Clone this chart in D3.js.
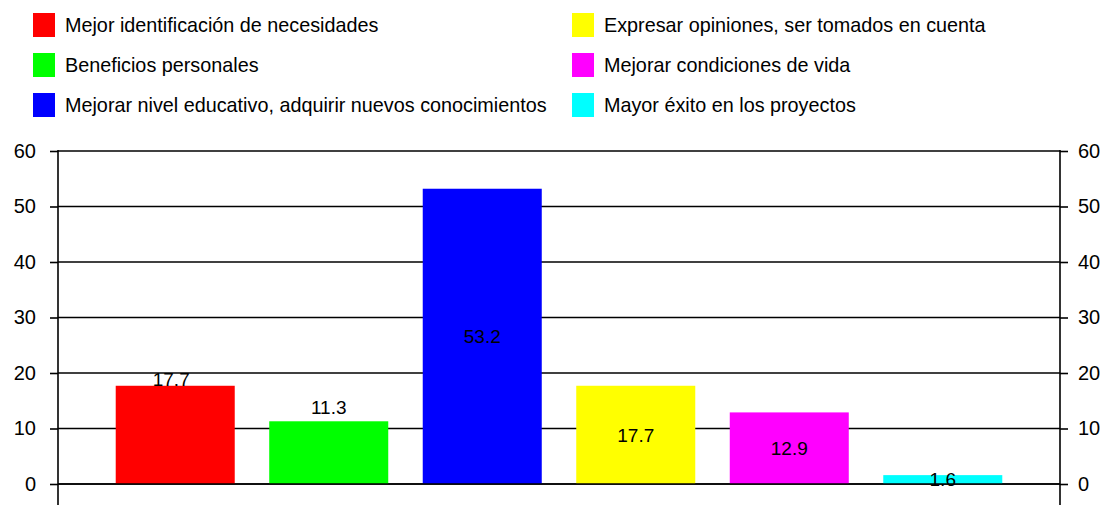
<!DOCTYPE html>
<html><head><meta charset="utf-8">
<script src="https://cdn.jsdelivr.net/npm/d3@7"></script>
<style>body{margin:0;background:#fff}svg{display:block}text{font-family:"Liberation Sans",Arial,sans-serif;fill:#000}</style>
</head><body><svg id="c" width="1107" height="505"></svg>
<script>
const categories = ["Mejor identificación de necesidades","Beneficios personales","Mejorar nivel educativo, adquirir nuevos conocimientos","Expresar opiniones, ser tomados en cuenta","Mejorar condiciones de vida","Mayor éxito en los proyectos"];
const values = [17.7, 11.3, 53.2, 17.7, 12.9, 1.6];
const valueLabels = ["17.7","11.3","53.2","17.7","12.9","1.6"];
const colors = ["#ff0000","#00ff00","#0000ff","#ffff00","#ff00ff","#00ffff"];
const labelModes = ["onTop","above","center","center","center","center"];
const yTicks = [0,10,20,30,40,50,60];

const svg = d3.select("#c");
const L = 58, R = 1060, T = 151, B = 484;
const x = d3.scaleBand().domain(categories).range([L,R]).paddingInner(0.2247).paddingOuter(0.376);
const y = d3.scaleLinear().domain([0,60]).range([B,T]);

// gridlines
svg.append("g").selectAll("line").data(yTicks).join("line")
  .attr("x1",L).attr("x2",R).attr("y1",d=>y(d)).attr("y2",d=>y(d))
  .attr("stroke","#000").attr("stroke-width",1.6);

// bars
svg.append("g").selectAll("rect").data(values).join("rect")
  .attr("x",(d,i)=>x(categories[i])).attr("width",x.bandwidth())
  .attr("y",d=>y(d)).attr("height",d=>B-y(d)).attr("fill",(d,i)=>colors[i]);

// zero line redraw on top
svg.append("line").attr("x1",L).attr("x2",R).attr("y1",y(0)).attr("y2",y(0)).attr("stroke","#000").attr("stroke-width",1.6);

// axes
const axL = svg.append("g").attr("transform",`translate(${L},0)`)
  .call(d3.axisLeft(y).tickValues(yTicks).tickSize(8).tickPadding(14));
const axR = svg.append("g").attr("transform",`translate(${R},0)`)
  .call(d3.axisRight(y).tickValues(yTicks).tickSize(8).tickPadding(10));
[axL,axR].forEach(a=>{
  a.select(".domain").remove();
  a.selectAll(".tick line").attr("stroke","#000").attr("stroke-width",1.6);
  a.selectAll("text").attr("font-size","20px").attr("fill","#000").attr("font-family","Liberation Sans, Arial, sans-serif");
});
svg.append("line").attr("x1",L).attr("x2",L).attr("y1",T-1).attr("y2",505).attr("stroke","#000").attr("stroke-width",1.6);
svg.append("line").attr("x1",R).attr("x2",R).attr("y1",T-1).attr("y2",505).attr("stroke","#000").attr("stroke-width",1.6);

// value labels
svg.append("g").selectAll("text").data(values).join("text")
  .attr("x",(d,i)=>x(categories[i])+x.bandwidth()/2 - (labelModes[i]==="onTop"?4:0))
  .attr("y",(d,i)=>{
    const m = labelModes[i];
    if(m==="center") return (y(d)+B)/2;
    if(m==="onTop") return y(d)-6;
    return y(d)-14;
  })
  .attr("dy","0.35em")
  .attr("text-anchor","middle").attr("font-size","19px")
  .text((d,i)=>valueLabels[i]);

// legend
const leg = svg.append("g");
categories.forEach((c,i)=>{
  const col = Math.floor(i/3), row = i%3;
  const lx = col===0 ? 33 : 572, ly = 13 + row*40;
  leg.append("rect").attr("x",lx).attr("y",ly).attr("width",22).attr("height",24).attr("fill",colors[i]);
  leg.append("text").attr("x",lx+32).attr("y",ly+12).attr("dy","0.35em").attr("font-size","19.8px").text(c);
});
</script></body></html>
